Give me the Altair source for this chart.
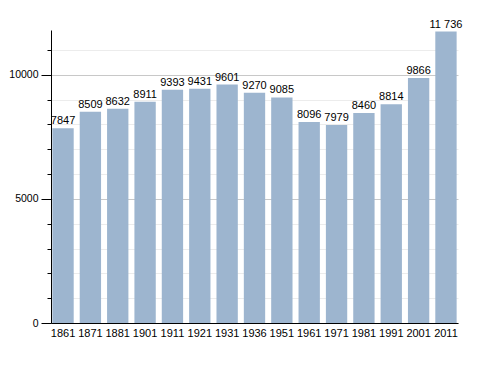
import altair as alt
import pandas as pd

years = ["1861", "1871", "1881", "1901", "1911", "1921", "1931", "1936",
         "1951", "1961", "1971", "1981", "1991", "2001", "2011"]
population = [7847, 8509, 8632, 8911, 9393, 9431, 9601, 9270,
              9085, 8096, 7979, 8460, 8814, 9866, 11736]
labels = ["7847", "8509", "8632", "8911", "9393", "9431", "9601", "9270",
          "9085", "8096", "7979", "8460", "8814", "9866", "11 736"]
y_ticks = list(range(0, 12000, 1000))

df = pd.DataFrame({"year": years, "pop": population, "label": labels})

font = "Liberation Sans"

base = alt.Chart(df).encode(
    x=alt.X("year:N", sort=years, title=None,
            scale=alt.Scale(paddingInner=0.22, paddingOuter=0.05),
            axis=alt.Axis(labelAngle=0, ticks=False, domainColor="black",
                          labelColor="black", labelFont=font, labelFontSize=11,
                          labelPadding=4)),
    y=alt.Y("pop:Q", title=None,
            scale=alt.Scale(domain=[0, 11800], nice=False),
            axis=alt.Axis(values=y_ticks,
                          labelExpr="datum.value % 5000 === 0 ? datum.value : ''",
                          domainColor="black", tickColor="black",
                          tickSize=alt.condition("datum.value % 5000 === 0",
                                                 alt.value(10), alt.value(4)),
                          labelColor="black", labelFont=font, labelFontSize=10.5,
                          labelPadding=3,
                          grid=True,
                          gridColor=alt.condition("datum.value % 5000 === 0",
                                                  alt.value("#c8c8c8"),
                                                  alt.value("#ececec")))),
)

bars = base.mark_bar(color="#9db5cf")
text = base.mark_text(dy=-7, fontSize=11, font=font, color="black").encode(
    text="label:N")

chart = (bars + text).properties(
    width=407, height=293,
    autosize=alt.AutoSizeParams(type="none"),
    padding={"left": 43, "top": 22, "right": 15, "bottom": 40},
).configure_view(stroke=None)

chart.save("out.html", embed_options={"renderer": "svg", "actions": False})
